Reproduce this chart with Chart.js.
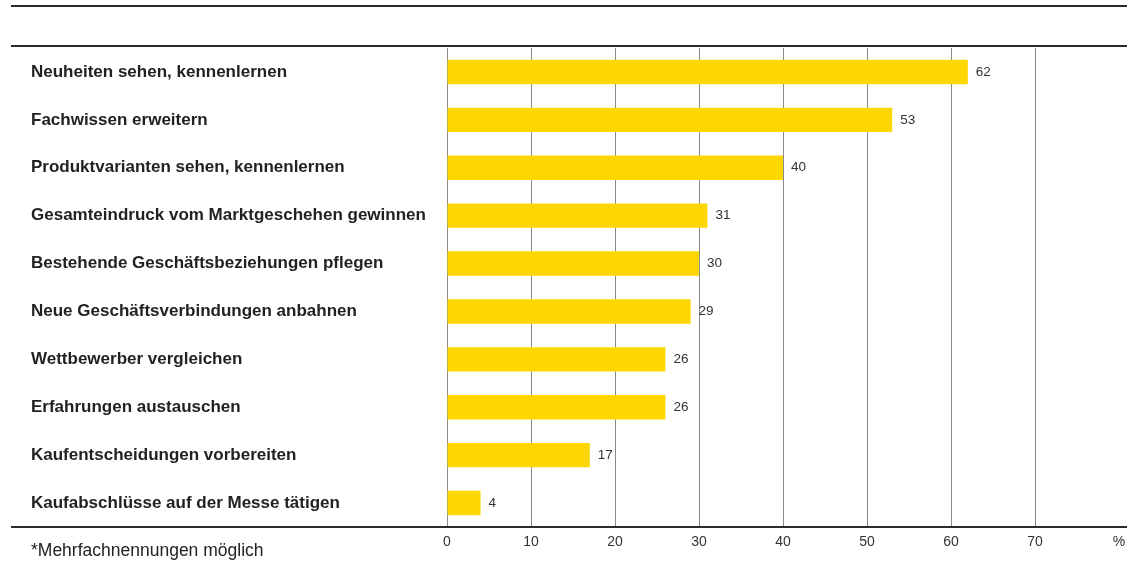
<!DOCTYPE html>
<html>
<head>
<meta charset="utf-8">
<script src="https://cdn.jsdelivr.net/npm/chart.js@4"></script>
<style>
  html, body { margin: 0; padding: 0; background: #fff; }
  #wrap { width: 1127px; height: 570px; position: relative; }
</style>
</head>
<body>
<div id="wrap"><canvas id="chart"></canvas></div>
<script>
// Besuchsziele (Mehrfachnennungen), Angaben in %
const categories = [
    'Neuheiten sehen, kennenlernen',
    'Fachwissen erweitern',
    'Produktvarianten sehen, kennenlernen',
    'Gesamteindruck vom Marktgeschehen gewinnen',
    'Bestehende Geschäftsbeziehungen pflegen',
    'Neue Geschäftsverbindungen anbahnen',
    'Wettbewerber vergleichen',
    'Erfahrungen austauschen',
    'Kaufentscheidungen vorbereiten',
    'Kaufabschlüsse auf der Messe tätigen'
];
const values = [62, 53, 40, 31, 30, 29, 26, 26, 17, 4];
const xTicks = [0, 10, 20, 30, 40, 50, 60, 70];
const unitLabel = '%';
const footnote = '*Mehrfachnennungen möglich';

const FONT = '"Liberation Sans", Arial, sans-serif';

// horizontal rules + value labels + footnote
const decorPlugin = {
    id: 'decor',
    afterDraw(chart) {
        const ctx = chart.ctx;
        const area = chart.chartArea;
        ctx.save();
        ctx.strokeStyle = '#2b2b2b';
        ctx.lineWidth = 2;
        [6, 46, area.bottom].forEach(y => {
            ctx.beginPath();
            ctx.moveTo(11, y);
            ctx.lineTo(chart.width, y);
            ctx.stroke();
        });

        // values at the end of the bars
        const meta = chart.getDatasetMeta(0);
        ctx.font = '13.5px ' + FONT;
        ctx.fillStyle = '#333';
        ctx.textAlign = 'left';
        ctx.textBaseline = 'middle';
        meta.data.forEach((bar, i) => {
            ctx.fillText(values[i], bar.x + 8, bar.y);
        });

        ctx.font = '17.5px ' + FONT;
        ctx.fillStyle = '#222';
        ctx.fillText(footnote, 31, 551);
        ctx.restore();
    }
};

const ctx = document.getElementById('chart');
new Chart(ctx, {
    type: 'bar',
    data: {
        labels: categories,
        datasets: [{
            data: values,
            backgroundColor: '#FFD700',
            borderWidth: 0,
            barPercentage: 0.51,
            categoryPercentage: 1.0
        }]
    },
    options: {
        indexAxis: 'y',
        responsive: true,
        maintainAspectRatio: false,
        animation: false,
        devicePixelRatio: 1,
        layout: {
            padding: { left: 31, right: 8, top: 48, bottom: 0 }
        },
        plugins: {
            legend: { display: false },
            tooltip: { enabled: false }
        },
        scales: {
            x: {
                min: 0,
                max: 80,
                afterBuildTicks: axis => {
                    axis.ticks = xTicks.concat([80]).map(v => ({ value: v }));
                },
                afterFit: axis => {
                    axis.height = 43;
                    axis.paddingLeft = 0;
                    axis.paddingRight = 0;
                },
                grid: {
                    drawTicks: false,
                    color: c => (c.tick && c.tick.value === 80) ? 'rgba(0,0,0,0)' : '#8a8a8a',
                    lineWidth: 1
                },
                border: { display: false },
                ticks: {
                    padding: 7,
                    color: '#333',
                    font: { family: FONT, size: 14 },
                    maxRotation: 0,
                    callback: v => v === 80 ? unitLabel : v
                }
            },
            y: {
                afterFit: axis => { axis.width = 447 - 31; },
                grid: { display: false },
                border: { display: false },
                ticks: {
                    crossAlign: 'far',
                    color: '#222',
                    font: { family: FONT, size: 17, weight: 'bold' }
                }
            }
        }
    },
    plugins: [decorPlugin]
});
</script>
</body>
</html>
